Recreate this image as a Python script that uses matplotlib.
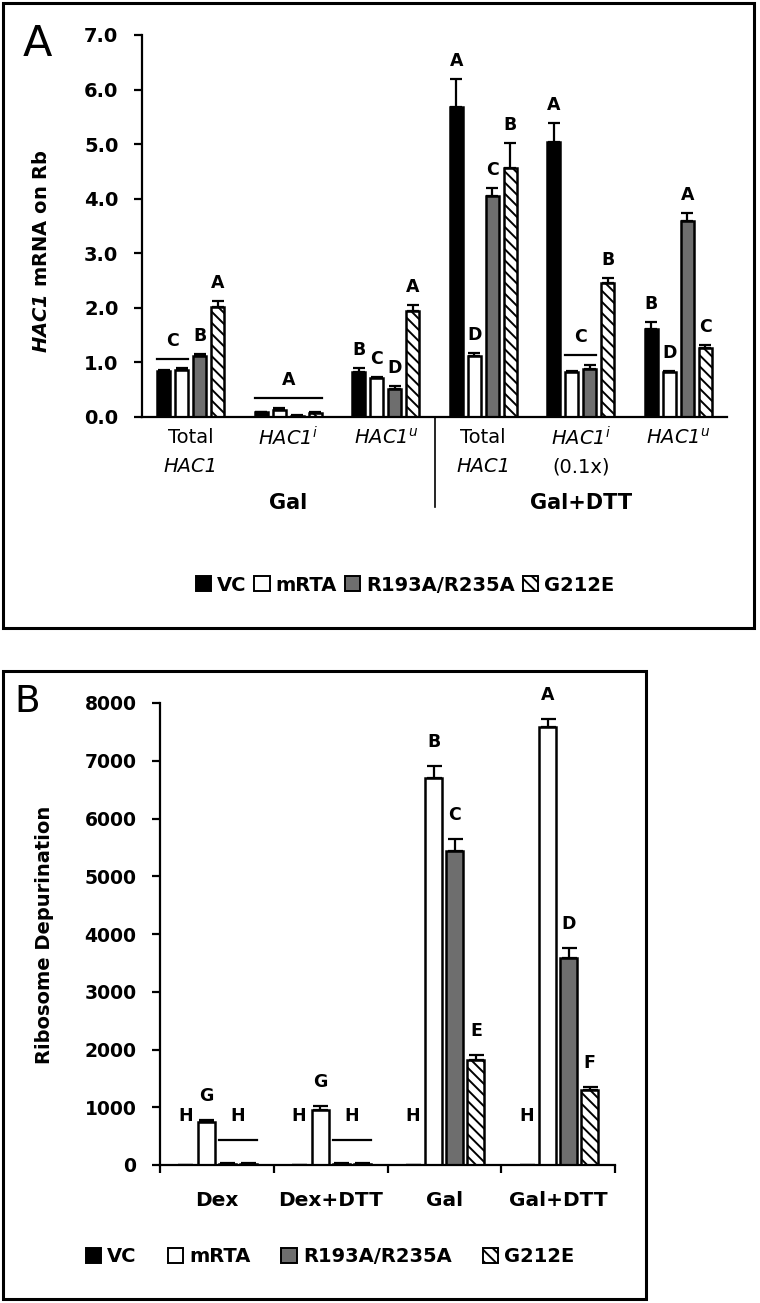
import numpy as np
import matplotlib
matplotlib.use("Agg")
import matplotlib.pyplot as plt
from matplotlib.patches import Rectangle, Patch
from matplotlib.transforms import blended_transform_factory
from matplotlib.ticker import FormatStrFormatter

plt.rcParams['font.family'] = ['DejaVu Sans']
# italic gene names: keep digits italic too
plt.rcParams['mathtext.fontset'] = 'custom'
plt.rcParams['mathtext.rm'] = 'DejaVu Sans:italic'
plt.rcParams['mathtext.it'] = 'DejaVu Sans:italic'
plt.rcParams['mathtext.bfit'] = 'DejaVu Sans:italic:bold'
plt.rcParams['hatch.linewidth'] = 1.4

# ---- data: panel A (HAC1 mRNA on ribosomes) ----
series_names = ['VC', 'mRTA', 'R193A/R235A', 'G212E']
cat_a_line1 = ['Total', r'$\mathrm{HAC1}^{i}$', r'$\mathrm{HAC1}^{u}$',
               'Total', r'$\mathrm{HAC1}^{i}$', r'$\mathrm{HAC1}^{u}$']
cat_a_line2 = ['HAC1', '', '', 'HAC1', '(0.1x)', '']
cond_a = ['Gal', 'Gal+DTT']

vc_a = [0.85, 0.09, 0.82, 5.68, 5.04, 1.62]
vc_a_err = [0.02, 0.01, 0.07, 0.52, 0.34, 0.12]
mrta_a = [0.86, 0.13, 0.72, 1.12, 0.82, 0.82]
mrta_a_err = [0.03, 0.04, 0.02, 0.05, 0.02, 0.03]
r193_a = [1.12, 0.02, 0.52, 4.05, 0.88, 3.60]
r193_a_err = [0.04, 0.01, 0.04, 0.15, 0.08, 0.14]
g212_a = [2.02, 0.07, 1.95, 4.56, 2.45, 1.27]
g212_a_err = [0.10, 0.02, 0.11, 0.46, 0.10, 0.05]

letters_a = [['', '', 'B', 'A'], ['', '', '', ''], ['B', 'C', 'D', 'A'],
             ['A', 'D', 'C', 'B'], ['A', '', '', 'B'], ['B', 'D', 'A', 'C']]
# (group, first bar, last bar, letter) for letters over a bracket line
lines_a = [(0, 0, 1, 'C'), (1, 0, 3, 'A'), (4, 1, 2, 'C')]

# ---- data: panel B (ribosome depurination) ----
cat_b = ['Dex', 'Dex+DTT', 'Gal', 'Gal+DTT']
vc_b = [0, 0, 0, 0]
vc_b_err = [0, 0, 0, 0]
mrta_b = [750, 960, 6700, 7580]
mrta_b_err = [25, 55, 210, 140]
r193_b = [20, 20, 5440, 3580]
r193_b_err = [10, 10, 200, 180]
g212_b = [20, 20, 1820, 1300]
g212_b_err = [10, 10, 80, 50]

letters_b = [['H', 'G', '', ''], ['H', 'G', '', ''],
             ['H', 'B', 'C', 'E'], ['H', 'A', 'D', 'F']]
lines_b = [(0, 2, 3, 'H'), (1, 2, 3, 'H')]

colors = ['black', 'white', '#6e6e6e', 'white']
hatches = [None, None, None, '\\\\\\']

W, H = 760, 1303
fig = plt.figure(figsize=(W / 100, H / 100), dpi=100)


def px_axes(x0, y0, x1, y1):
    return [x0 / W, 1 - y1 / H, (x1 - x0) / W, (y1 - y0) / H]


def frame(x0, y0, x1, y1):
    fig.add_artist(Rectangle((x0 / W, 1 - y1 / H), (x1 - x0) / W, (y1 - y0) / H,
                             transform=fig.transFigure, fill=False,
                             lw=2.2, ec='black'))


def draw_bars(ax, vals, errs, step, width, capsize):
    n = len(vals[0])
    x = np.arange(n) + 0.5
    tops = []
    for k in range(4):
        xs = x + (k - 1.5) * step
        ax.bar(xs, vals[k], width, color=colors[k], edgecolor='black',
               lw=1.8, hatch=hatches[k], zorder=2)
        ax.errorbar(xs, vals[k], yerr=[np.zeros(n), errs[k]], fmt='none',
                    ecolor='black', elinewidth=1.6, capsize=capsize,
                    capthick=1.6, zorder=3)
        tops.append(np.array(vals[k]) + np.array(errs[k]))
    return x, np.array(tops)


def draw_letters(ax, x, tops, letters, lines, step, width, off, line_off,
                 floor=0):
    for g in range(len(letters)):
        for k in range(4):
            if letters[g][k]:
                y = max(tops[k, g] + off, floor)
                ax.text(x[g] + (k - 1.5) * step, y, letters[g][k], ha='center',
                        va='center', fontsize=12.5, fontweight='bold')
    for g, a, b, lab in lines:
        ly = tops[a:b + 1, g].max() + line_off
        xa = x[g] + (a - 1.5) * step - width / 2
        xb = x[g] + (b - 1.5) * step + width / 2
        ax.plot([xa, xb], [ly, ly], color='black', lw=1.6)
        ax.text((xa + xb) / 2, max(ly + off, floor), lab, ha='center',
                va='center', fontsize=12.5, fontweight='bold')


def style_axes(ax, size):
    for s in ['top', 'right']:
        ax.spines[s].set_visible(False)
    for s in ['left', 'bottom']:
        ax.spines[s].set_linewidth(1.6)
    ax.tick_params(axis='y', direction='out', length=6, width=1.6, pad=11,
                   labelsize=size)
    for t in ax.get_yticklabels():
        t.set_fontweight('bold')


# ---------------- Panel A ----------------
frame(3, 3, 754, 628)
ax = fig.add_axes(px_axes(142, 35, 727, 417))
step_a, width_a = 0.185, 0.137
x, tops = draw_bars(ax, [vc_a, mrta_a, r193_a, g212_a],
                    [vc_a_err, mrta_a_err, r193_a_err, g212_a_err],
                    step_a, width_a, 4.6)
draw_letters(ax, x, tops, letters_a, lines_a, step_a, width_a, 0.33, 0.18)
ax.set_xlim(0, 6)
ax.set_ylim(0, 7)
ax.set_yticks(np.arange(0, 7.01, 1.0))
ax.yaxis.set_major_formatter(FormatStrFormatter('%.1f'))
ax.set_xticks([])
style_axes(ax, 14)

for i in range(6):
    ax.annotate(cat_a_line1[i], xy=(x[i], 0), xycoords=('data', 'axes fraction'),
                xytext=(0, -21 * 0.72), textcoords='offset points',
                ha='center', va='center', fontsize=14)
    if cat_a_line2[i]:
        ax.annotate(cat_a_line2[i], xy=(x[i], 0),
                    xycoords=('data', 'axes fraction'),
                    xytext=(0, -50 * 0.72), textcoords='offset points',
                    ha='center', va='center', fontsize=14,
                    fontstyle='italic' if 'HAC' in cat_a_line2[i] else 'normal')
for j, c in enumerate(cond_a):
    ax.annotate(c, xy=(1.5 + 3 * j, 0), xycoords=('data', 'axes fraction'),
                xytext=(0, -86 * 0.72), textcoords='offset points',
                ha='center', va='center', fontsize=15, fontweight='bold')
trans = blended_transform_factory(ax.transData, ax.transAxes)
ax.plot([3, 3], [0, -90 / 382], transform=trans, color='black', lw=1.2,
        clip_on=False)

fig.text(37 / W, 1 - 44 / H, 'A', fontsize=31, ha='center', va='center')
fig.text(42 / W, 1 - 251 / H, r'$\mathbfit{HAC1}$ mRNA on Rb', rotation=90,
         fontsize=14, fontweight='bold', ha='center', va='center')

handles = [Patch(facecolor=colors[k], edgecolor='black', lw=1.4,
                 hatch=hatches[k]) for k in range(4)]
fig.legend(handles, series_names, loc='center',
           bbox_to_anchor=(405 / W, 1 - 585 / H), ncol=4, frameon=False,
           handlelength=0.8, handleheight=0.8, handletextpad=0.3,
           columnspacing=0.4, prop=dict(weight='bold', size=14))

# ---------------- Panel B ----------------
frame(3, 671, 646, 1299)
ax = fig.add_axes(px_axes(160, 703, 615, 1165))
step_b, width_b = 0.185, 0.15
x, tops = draw_bars(ax, [vc_b, mrta_b, r193_b, g212_b],
                    [vc_b_err, mrta_b_err, r193_b_err, g212_b_err],
                    step_b, width_b, 5.4)
draw_letters(ax, x, tops, letters_b, lines_b, step_b, width_b, 420, 400,
             floor=850)
ax.set_xlim(0, 4)
ax.set_ylim(0, 8000)
ax.set_yticks(np.arange(0, 8001, 1000))
ax.set_xticks(np.arange(0, 4.01, 1))
ax.set_xticklabels([])
style_axes(ax, 13.5)
ax.tick_params(axis='x', direction='out', length=6, width=1.6)
for i, c in enumerate(cat_b):
    ax.annotate(c, xy=(x[i], 0), xycoords=('data', 'axes fraction'),
                xytext=(0, -35 * 0.72), textcoords='offset points',
                ha='center', va='center', fontsize=14.5, fontweight='bold')

fig.text(27 / W, 1 - 702 / H, 'B', fontsize=27, ha='center', va='center')
fig.text(45 / W, 1 - 935 / H, 'Ribosome Depurination', rotation=90,
         fontsize=14, fontweight='bold', ha='center', va='center')

handles = [Patch(facecolor=colors[k], edgecolor='black', lw=1.4,
                 hatch=hatches[k]) for k in range(4)]
fig.legend(handles, series_names, loc='center',
           bbox_to_anchor=(330 / W, 1 - 1257 / H), ncol=4, frameon=False,
           handlelength=0.8, handleheight=0.8, handletextpad=0.3,
           columnspacing=1.6, prop=dict(weight='bold', size=14))

fig.savefig('out.png', dpi=100)
